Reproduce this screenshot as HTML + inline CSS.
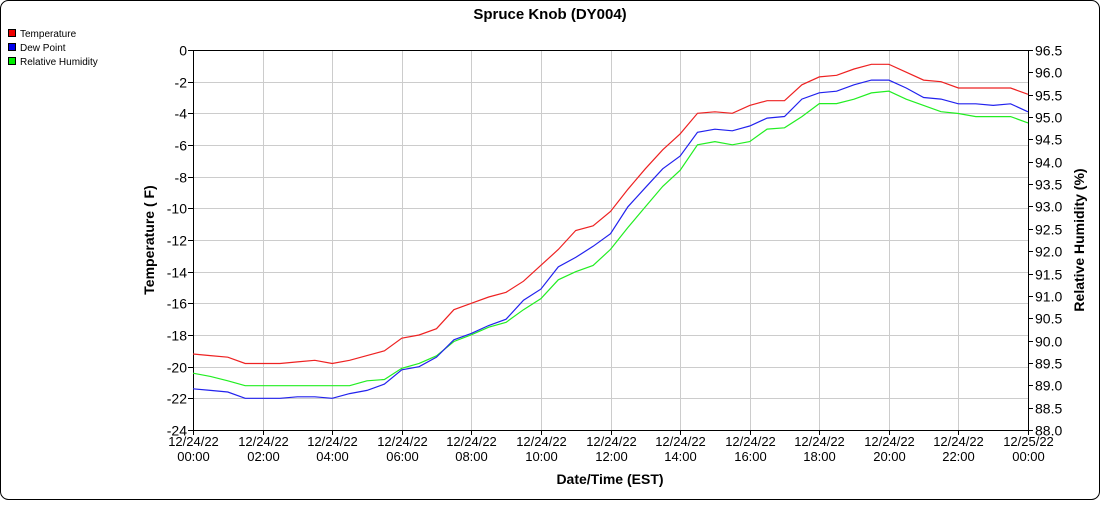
<!DOCTYPE html>
<html><head><meta charset="utf-8"><style>
body{margin:0;background:#fff;font-family:"Liberation Sans",sans-serif}
#wrap{position:relative;width:1100px;height:500px}
</style></head><body>
<div id="wrap">
<svg id="svg" width="1100" height="500" xmlns="http://www.w3.org/2000/svg" font-family="Liberation Sans, sans-serif">
<rect x="0.5" y="0.5" width="1099" height="499" rx="8" fill="#fff" stroke="#000"/>
<text x="550" y="19" text-anchor="middle" font-size="15" font-weight="bold">Spruce Knob (DY004)</text>
<g font-size="10">
<g><rect x="8.5" y="29.5" width="7" height="7" fill="#e00" stroke="#000"/><text x="20" y="37">Temperature</text></g>
<g><rect x="8.5" y="43.5" width="7" height="7" fill="#00e" stroke="#000"/><text x="20" y="51">Dew Point</text></g>
<g><rect x="8.5" y="57.5" width="7" height="7" fill="#0e0" stroke="#000"/><text x="20" y="65">Relative Humidity</text></g>
</g>
<g id="grid"></g>
<g id="axes"></g>
<g id="series"></g>
<text transform="translate(154,240) rotate(-90)" text-anchor="middle" font-size="14" font-weight="bold">Temperature ( F)</text>
<text transform="translate(1084,240) rotate(-90)" text-anchor="middle" font-size="14" font-weight="bold">Relative Humidity (%)</text>
<text x="610" y="484" text-anchor="middle" font-size="14" font-weight="bold">Date/Time (EST)</text>
</svg>
</div>
<script>
const hours = [0,0.5,1,1.5,2,2.5,3,3.5,4,4.5,5,5.5,6,6.5,7,7.5,8,8.5,9,9.5,10,10.5,11,11.5,12,12.5,13,13.5,14,14.5,15,15.5,16,16.5,17,17.5,18,18.5,19,19.5,20,20.5,21,21.5,22,22.5,23,23.5,24];
const temperature = [-19.2,-19.3,-19.4,-19.8,-19.8,-19.8,-19.7,-19.6,-19.8,-19.6,-19.3,-19.0,-18.2,-18.0,-17.6,-16.4,-16.0,-15.6,-15.3,-14.6,-13.6,-12.6,-11.4,-11.1,-10.2,-8.8,-7.5,-6.3,-5.3,-4.0,-3.9,-4.0,-3.5,-3.2,-3.2,-2.2,-1.7,-1.6,-1.2,-0.9,-0.9,-1.4,-1.9,-2.0,-2.4,-2.4,-2.4,-2.4,-2.8];
const dewPoint = [-21.4,-21.5,-21.6,-22.0,-22.0,-22.0,-21.9,-21.9,-22.0,-21.7,-21.5,-21.1,-20.2,-20.0,-19.4,-18.3,-17.9,-17.4,-17.0,-15.8,-15.1,-13.7,-13.1,-12.4,-11.6,-9.9,-8.7,-7.5,-6.7,-5.2,-5.0,-5.1,-4.8,-4.3,-4.2,-3.1,-2.7,-2.6,-2.2,-1.9,-1.9,-2.4,-3.0,-3.1,-3.4,-3.4,-3.5,-3.4,-3.9];
const humidity = [89.27,89.20,89.10,88.99,88.99,88.99,88.99,88.99,88.99,88.99,89.10,89.13,89.38,89.49,89.66,89.98,90.13,90.30,90.41,90.69,90.94,91.36,91.54,91.68,92.04,92.53,92.99,93.45,93.81,94.38,94.45,94.38,94.45,94.73,94.76,95.01,95.30,95.30,95.40,95.54,95.58,95.40,95.26,95.12,95.08,95.01,95.01,95.01,94.87];
const leftTicks = [0,-2,-4,-6,-8,-10,-12,-14,-16,-18,-20,-22,-24];
const rightTicks = ["96.5","96.0","95.5","95.0","94.5","94.0","93.5","93.0","92.5","92.0","91.5","91.0","90.5","90.0","89.5","89.0","88.5","88.0"];
const xTickHours = [0,2,4,6,8,10,12,14,16,18,20,22,24];
const xTickLabels = [["12/24/22","00:00"],["12/24/22","02:00"],["12/24/22","04:00"],["12/24/22","06:00"],["12/24/22","08:00"],["12/24/22","10:00"],["12/24/22","12:00"],["12/24/22","14:00"],["12/24/22","16:00"],["12/24/22","18:00"],["12/24/22","20:00"],["12/24/22","22:00"],["12/25/22","00:00"]];

const L=193,R=1028,T=50,B=430;
const x=h=>L+(R-L)*h/24;
const yL=v=>T+(B-T)*(0-v)/24;
const yR=v=>T+(B-T)*(96.5-v)/8.5;
const NS="http://www.w3.org/2000/svg";
function mk(tag,attrs,parent){const e=document.createElementNS(NS,tag);for(const k in attrs)e.setAttribute(k,attrs[k]);parent.appendChild(e);return e;}
const grid=document.getElementById('grid'),axes=document.getElementById('axes'),series=document.getElementById('series');
leftTicks.forEach(v=>{const yy=Math.round(yL(v))+0.5;
 const g=mk('line',{x1:L,x2:R,y1:yy,y2:yy,stroke:'#ccc'},grid);
 
 
 const t=mk('line',{x1:L-5,x2:L,y1:yy,y2:yy,stroke:'#000'},axes);
 
 
 const tx=mk('text',{x:L-6,y:yy+5,'text-anchor':'end','font-size':'14'},axes);tx.textContent=v;
 
 
});
rightTicks.forEach(s=>{const yy=Math.round(yR(parseFloat(s)))+0.5;
 const t=mk('line',{x1:R,x2:R+5,y1:yy,y2:yy,stroke:'#000'},axes);
 
 
 const tx=mk('text',{x:R+7,y:yy+5,'font-size':'14'},axes);tx.textContent=s;
 
 
});
xTickHours.forEach((h,i)=>{const xx=Math.round(x(h))+0.5;
 const g=mk('line',{x1:xx,x2:xx,y1:T,y2:B,stroke:'#ccc'},grid);
 
 
 const t=mk('line',{x1:xx,x2:xx,y1:B,y2:B+5,stroke:'#000'},axes);
 
 
 const tx=mk('text',{x:xx,y:446,'text-anchor':'middle','font-size':'13'},axes);
 
 
 const a=mk('tspan',{x:xx},tx);a.textContent=xTickLabels[i][0];
 const b=mk('tspan',{x:xx,dy:15},tx);b.textContent=xTickLabels[i][1];
});
const frame=[['line',{x1:L+0.5,x2:L+0.5,y1:T,y2:B+5}],['line',{x1:R+0.5,x2:R+0.5,y1:T,y2:B+5}],['line',{x1:L,x2:R,y1:T+0.5,y2:T+0.5}],['line',{x1:L-5,x2:R+5,y1:B+0.5,y2:B+0.5}]];
frame.forEach(f=>{f[1].stroke='#000';const e=mk(f[0],f[1],axes);
 
 });
function line(vals,yf,color,name){
 const d=vals.map((v,i)=>(i?'L':'M')+x(hours[i]).toFixed(1)+','+yf(v).toFixed(1)).join('');
 const p=mk('path',{d:d,fill:'none',stroke:color,'stroke-width':'1.2'},series);
 
 
}
line(humidity,yR,'#22ee22','relative-humidity-line');
line(dewPoint,yL,'#2222ee','dew-point-line');
line(temperature,yL,'#ee2222','temperature-line');
</script>
</body></html>
